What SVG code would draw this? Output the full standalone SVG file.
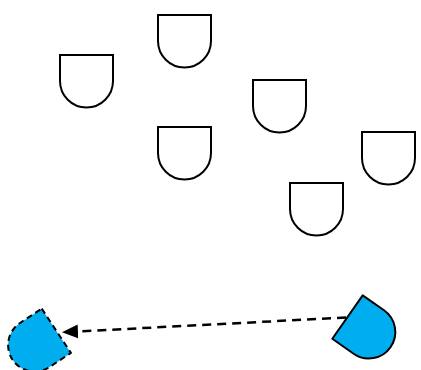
<svg xmlns="http://www.w3.org/2000/svg" width="421" height="370" viewBox="0 0 421 370">
<style>
.d{fill:#fff;stroke:#000;stroke-width:2}
.b{fill:#00aeef;stroke:#000;stroke-width:2;stroke-linejoin:round}
.dash{stroke-dasharray:6 4}
.c{fill:none;stroke:#000;stroke-width:2.5;stroke-dasharray:9 6}
</style>
<defs>
<path id="dl" d="M-26.5,-26 H26.5 V0 A26.5,26.5 0 0 1 -26.5,0 Z"/>
<marker id="ah" markerUnits="userSpaceOnUse" markerWidth="18" markerHeight="16" refX="16" refY="7" orient="auto" viewBox="0 0 18 14">
<path d="M0,0 L16,7 L0,14 Z" fill="#000"/>
</marker>
</defs>
<g id="n1" class="d"><use href="#dl" transform="translate(86.5,81)"/></g>
<g id="n2" class="d"><use href="#dl" transform="translate(184.5,41)"/></g>
<g id="n3" class="d"><use href="#dl" transform="translate(279.5,106)"/></g>
<g id="n4" class="d"><use href="#dl" transform="translate(184.5,153)"/></g>
<g id="n5" class="d"><use href="#dl" transform="translate(388.5,158)"/></g>
<g id="n6" class="d"><use href="#dl" transform="translate(316.5,209)"/></g>
<g id="n7" class="b"><use href="#dl" transform="translate(368.8,332) rotate(-55)"/></g>
<g id="n8" class="b dash"><use href="#dl" transform="translate(34.6,345.1) rotate(56.6)"/></g>
<g id="connectors">
<path class="c" d="M346,317.5 L62,332.3" marker-end="url(#ah)"/>
</g>
</svg>
